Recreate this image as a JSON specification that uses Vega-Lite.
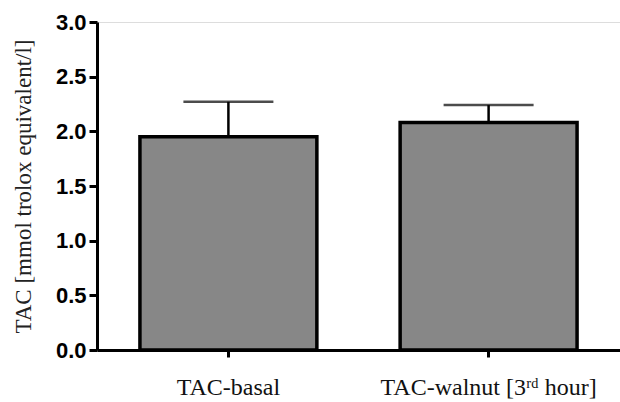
{
  "$schema": "https://vega.github.io/schema/vega-lite/v6.json",
  "autosize": {"type": "none"},
  "width": 523,
  "height": 328,
  "padding": {"left": 97, "top": 22, "right": 0, "bottom": 52},
  "background": "white",
  "data": {"values": [
    {"group": "TAC-basal", "mean": 1.95, "upper": 2.27},
    {"group": "TAC-walnut [3ʳᵈ hour]", "mean": 2.08, "upper": 2.24}
  ]},
  "encoding": {
    "x": {"field": "group", "type": "nominal", "sort": null,
      "scale": {"paddingInner": 0.32, "paddingOuter": 0.165},
      "axis": {"title": null, "labelAngle": 0, "labelLimit": 0, "labelOverlap": false, "labelBound": false, "labelFont": "Liberation Serif", "labelFontSize": 24, "labelColor": "#111", "labelPadding": 18, "domainColor": "black", "domainWidth": 3, "tickColor": "black", "tickWidth": 3, "tickSize": 7}}
  },
  "layer": [
    {"mark": {"type": "bar", "fill": "#878787", "stroke": "black", "strokeWidth": 3.5},
     "encoding": {"y": {"field": "mean", "type": "quantitative",
       "scale": {"domain": [0, 3], "nice": false},
       "axis": {"title": "TAC [mmol trolox equivalent/l]", "titleFont": "Liberation Serif", "titleFontSize": 23, "titleFontWeight": "normal", "titleColor": "#222", "titlePadding": 20,
         "values": [0, 0.5, 1, 1.5, 2, 2.5, 3], "format": ".1f", "labelFont": "Liberation Sans", "labelFontSize": 22, "labelFontWeight": "bold", "labelColor": "black", "labelPadding": 3,
         "grid": false, "domainColor": "black", "domainWidth": 3, "tickColor": "black", "tickWidth": 3, "tickSize": 8}}}},
    {"mark": {"type": "rule", "color": "black", "strokeWidth": 2.5},
     "encoding": {"y": {"field": "mean", "type": "quantitative"}, "y2": {"field": "upper"}}},
    {"mark": {"type": "tick", "color": "black", "thickness": 2.5, "size": 90, "orient": "horizontal"},
     "encoding": {"y": {"field": "upper", "type": "quantitative"}}}
  ]
}
